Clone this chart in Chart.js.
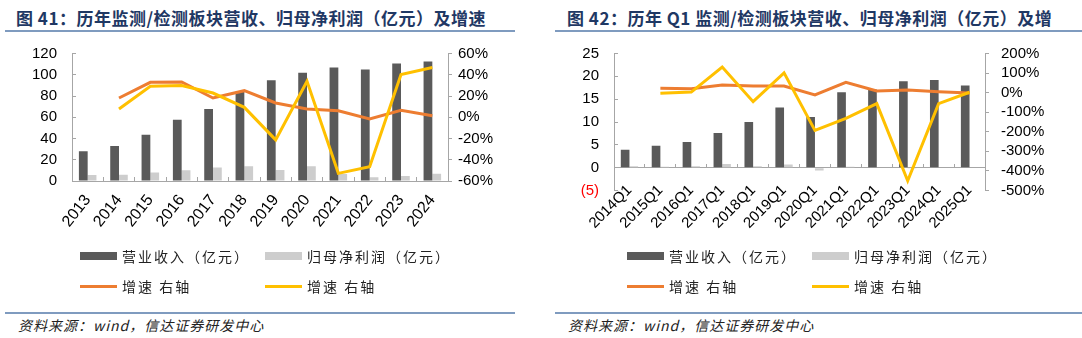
<!DOCTYPE html>
<html>
<head>
<meta charset="utf-8">
<script src="https://cdn.jsdelivr.net/npm/chart.js@4.4.1/dist/chart.umd.min.js"></script>
<style>
  body { margin: 0; width: 1082px; height: 338px; background: #fff; position: relative; overflow: hidden;
         font-family: "Noto Sans CJK SC", sans-serif; }
  .title { position: absolute; top: 5px; font-size: 17px; font-weight: bold; color: #1f3864; white-space: nowrap; letter-spacing: 0.5px; }
  .rule { position: absolute; height: 2px; background: #7f9bbf; }
  .src { position: absolute; top: 315px; font-size: 14px; font-style: italic; color: #222; white-space: nowrap; letter-spacing: 1px; }
  .chartbox { position: absolute; top: 40px; height: 210px; }
  .legend { position: absolute; top: 0; left: 0; }
  .item { position: absolute; height: 20px; display: flex; align-items: center; font-size: 14px; color: #222;
          white-space: nowrap; letter-spacing: 2px; }
  .sw { display: inline-block; margin-right: 5px; }
</style>
</head>
<body>

<div class="title" style="left:16px">图 41：历年监测/检测板块营收、归母净利润（亿元）及增速</div>
<div class="rule" style="left:5px;width:510px;top:30px"></div>
<div class="chartbox" style="left:0;width:540px"><canvas id="yearChart"></canvas></div>
<div class="legend" id="yearLegend"></div>
<div class="rule" style="left:5px;width:510px;top:312px"></div>
<div class="src" style="left:18px">资料来源：wind，信达证券研发中心</div>

<div class="title" style="left:567px">图 42：历年 Q1 监测/检测板块营收、归母净利润（亿元）及增</div>
<div class="rule" style="left:555px;width:527px;top:30px"></div>
<div class="chartbox" style="left:540px;width:542px"><canvas id="q1Chart"></canvas></div>
<div class="legend" id="q1Legend"></div>
<div class="rule" style="left:555px;width:527px;top:312px"></div>
<div class="src" style="left:568px">资料来源：wind，信达证券研发中心</div>

<script>
// yearly figures
const yearLabels = ['2013', '2014', '2015', '2016', '2017', '2018', '2019', '2020', '2021', '2022', '2023', '2024'];
const yearRevenue = [28, 33, 43.5, 57.6, 67.7, 84, 94.8, 101.8, 106.8, 104.9, 110.6, 112.5];
const yearProfit = [5.7, 6.0, 7.9, 10.1, 12.6, 13.9, 10.4, 13.9, 6.6, 3.5, 4.7, 6.9];
const yearRevenueGrowth = [null, 18.1, 32.9, 33.2, 18.1, 25.0, 13.4, 7.7, 6.1, -1.7, 6.5, 1.4];
const yearProfitGrowth = [null, 7.7, 29.1, 29.8, 22.8, 9.3, -21.3, 33.9, -52.8, -46.5, 40.2, 46.8];

// Q1 figures
const q1Labels = ['2014Q1', '2015Q1', '2016Q1', '2017Q1', '2018Q1', '2019Q1', '2020Q1', '2021Q1', '2022Q1', '2023Q1', '2024Q1', '2025Q1'];
const q1Revenue = [3.9, 4.8, 5.6, 7.6, 10.0, 13.2, 11.1, 16.5, 17.1, 18.9, 19.2, 18.0];
const q1Profit = [0.3, 0.2, 0.3, 0.8, 0.3, 0.7, -0.6, 0.2, 0.1, -0.2, 0.1, 0.1];
const q1RevenueGrowth = [null, 22, 20, 39, 34, 34, -12, 53, 8.5, 13.6, 5, -2];
const q1ProfitGrowth = [null, -3, 3, 131, -46, 101, -193, -131, -56, -450, -56, 2];

const seriesNames = ['营业收入（亿元）', '归母净利润（亿元）', '增速 右轴', '增速 右轴'];
const seriesColors = ['#5a5a5a', '#cdcdcd', '#ed7d31', '#ffc000'];

const axisGray = '#a6a6a6';
const numFont = 'Liberation Sans, Arial, sans-serif';

function buildDatasets(rev, prof, g1, g2) {
  const bar = (data, i) => ({
    type: 'bar', label: seriesNames[i], data: data, backgroundColor: seriesColors[i],
    yAxisID: 'y', order: 2, categoryPercentage: 0.56, barPercentage: 1
  });
  const line = (data, i, order) => ({
    type: 'line', label: seriesNames[i], data: data, borderColor: seriesColors[i], backgroundColor: seriesColors[i],
    borderWidth: 3, pointRadius: 0, tension: 0, yAxisID: 'y1', order: order
  });
  return [bar(rev, 0), bar(prof, 1), line(g1, 2, 1), line(g2, 3, 0)];
}

function makeChart(id, labels, datasets, opts) {
  return new Chart(document.getElementById(id), {
    type: 'bar',
    data: { labels: labels, datasets: datasets },
    options: {
      responsive: true,
      maintainAspectRatio: false,
      animation: false,
      layout: { padding: { top: 13.5, left: 0, right: 0, bottom: opts.bottomPad } },
      plugins: { legend: { display: false }, tooltip: { enabled: false } },
      scales: {
        x: {
          // the Q1 chart puts its category axis on the zero line
          position: opts.xPosition,
          grid: { drawOnChartArea: false, offset: true, color: axisGray, tickLength: -4 },
          border: { color: axisGray },
          ticks: {
            font: { family: numFont, size: opts.xFontSize }, color: '#000',
            maxRotation: opts.xRotation, minRotation: opts.xRotation, autoSkip: false, padding: opts.xPadding
          },
          afterFit: s => { s.height = opts.xHeight; s.paddingLeft = 0; s.paddingRight = 0; }
        },
        y: {
          position: 'left',
          min: opts.leftMin, max: opts.leftMax,
          ticks: {
            stepSize: opts.leftStep, font: { family: numFont, size: 15 }, padding: 19, autoSkip: false,
            color: c => c.tick.value < 0 ? '#ff0000' : '#000',
            callback: v => v < 0 ? '(' + (-v) + ')' : v
          },
          grid: { drawOnChartArea: false, color: axisGray, tickLength: -4 },
          border: { color: axisGray },
          afterFit: s => { s.width = opts.leftWidth; s.paddingTop = 0; s.paddingBottom = 0; }
        },
        y1: {
          position: 'right',
          min: opts.rightMin, max: opts.rightMax,
          ticks: {
            stepSize: opts.rightStep, font: { family: numFont, size: 15 }, color: '#000',
            padding: opts.rightPadding, autoSkip: false, callback: v => v + '%'
          },
          grid: { drawOnChartArea: false, color: axisGray, tickLength: 4 },
          border: { color: axisGray },
          afterFit: s => { s.width = opts.rightWidth; s.paddingTop = 0; s.paddingBottom = 0; }
        }
      }
    }
  });
}

// two-column legend under each chart
function drawLegend(el, chart, left, col2) {
  chart.data.datasets.forEach((ds, i) => {
    const item = document.createElement('div');
    item.className = 'item';
    item.style.left = (left + (i % 2) * col2) + 'px';
    item.style.top = (i < 2 ? 246 : 276) + 'px';
    const sw = document.createElement('span');
    sw.className = 'sw';
    sw.style.width = '37px';
    sw.style.height = ds.type === 'bar' ? '8px' : '3px';
    sw.style.background = ds.type === 'bar' ? ds.backgroundColor : ds.borderColor;
    item.appendChild(sw);
    item.appendChild(document.createTextNode(ds.label));
    el.appendChild(item);
  });
}

const yearChart = makeChart('yearChart', yearLabels,
  buildDatasets(yearRevenue, yearProfit, yearRevenueGrowth, yearProfitGrowth), {
    xPosition: 'bottom', xHeight: 69, bottomPad: 0, xPadding: 14, xRotation: 52, xFontSize: 16,
    leftMin: 0, leftMax: 120, leftStep: 20, leftWidth: 72,
    rightMin: -60, rightMax: 60, rightStep: 20, rightWidth: 92, rightPadding: 6
  });

const q1Chart = makeChart('q1Chart', q1Labels,
  buildDatasets(q1Revenue, q1Profit, q1RevenueGrowth, q1ProfitGrowth), {
    xPosition: { y: 0 }, xHeight: 59.5, bottomPad: 59.5, xPadding: 18, xRotation: 45, xFontSize: 15,
    leftMin: -5, leftMax: 25, leftStep: 5, leftWidth: 74,
    rightMin: -500, rightMax: 200, rightStep: 100, rightWidth: 97, rightPadding: 12
  });

drawLegend(document.getElementById('yearLegend'), yearChart, 80, 185);
drawLegend(document.getElementById('q1Legend'), q1Chart, 627, 185);
</script>
</body>
</html>
